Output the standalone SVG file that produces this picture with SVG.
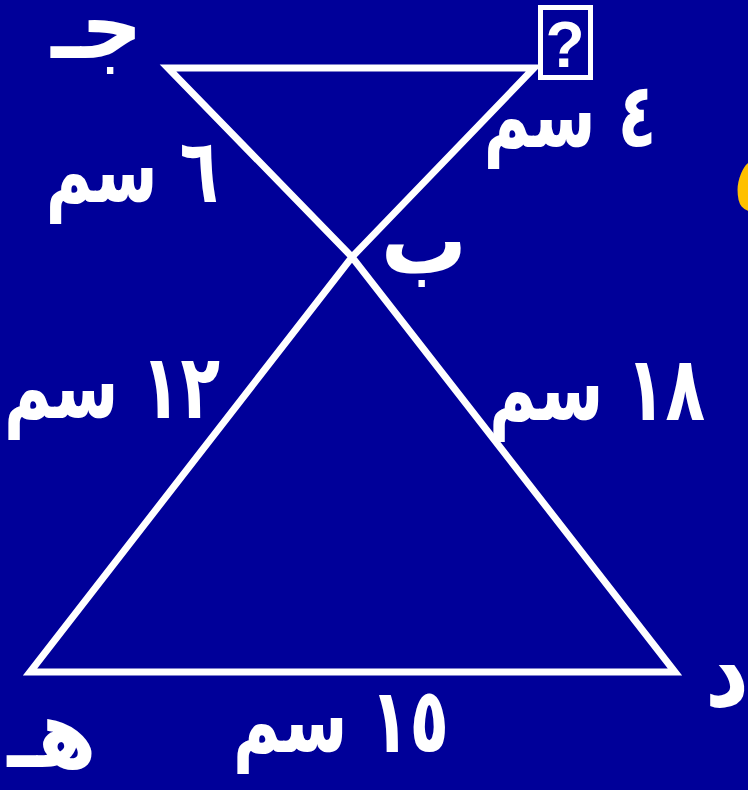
<svg xmlns="http://www.w3.org/2000/svg" width="748" height="790" viewBox="0 0 748 790">
<style>
.lbl{font-family:"DejaVu Sans","Noto Sans",sans-serif;font-weight:bold;fill:#ffffff;font-size:72px;text-anchor:middle}
.let{font-family:"DejaVu Sans","Noto Sans",sans-serif;font-weight:bold;fill:#ffffff;font-size:86px;text-anchor:middle}
.edge{fill:none;stroke:#ffffff;stroke-width:7;stroke-linejoin:miter;stroke-miterlimit:10}
</style>
<rect width="748" height="790" fill="#000099"/>
<g id="connectors">
<path class="edge" d="M168,68 L534,68 L352,257 L30,672 L675,672 L352,257 Z"/>
</g>
<g id="node-jeem" transform="translate(97,58) scale(1,1.1)"><text class="let" x="0" y="0">جـ</text></g>
<g id="node-question">
<rect x="540.5" y="7.5" width="50" height="70" fill="none" stroke="#ffffff" stroke-width="5"/>
<text x="565" y="67" font-family="Liberation Sans, Arial, sans-serif" font-weight="bold" font-size="64" fill="#ffffff" text-anchor="middle">?</text>
</g>
<g id="node-baa" transform="translate(424,273) scale(1,1.1)"><text class="let" x="0" y="0">ب</text></g>
<g id="node-dal" transform="translate(727,706) scale(1,1.15)"><text class="let" x="0" y="0">د</text></g>
<g id="node-haa" transform="translate(52,767) scale(1,1.1)"><text class="let" x="0" y="0">هـ</text></g>
<g id="label-4" transform="translate(570,147) scale(0.88,1.25)"><text class="lbl" x="0" y="0">٤ سم</text></g>
<g id="label-6" transform="translate(132,202) scale(0.88,1.25)"><text class="lbl" x="0" y="0">٦ سم</text></g>
<g id="label-12" transform="translate(112,418) scale(0.9,1.25)"><text class="lbl" x="0" y="0">١٢ سم</text></g>
<g id="label-18" transform="translate(597,420) scale(0.9,1.25)"><text class="lbl" x="0" y="0">١٨ سم</text></g>
<g id="label-15" transform="translate(341,752) scale(0.9,1.25)"><text class="lbl" x="0" y="0">١٥ سم</text></g>
<g id="partial"><text x="757" y="212" font-family="DejaVu Sans, sans-serif" font-weight="bold" font-size="80" fill="#FFC000" text-anchor="middle">٥</text></g>
</svg>
